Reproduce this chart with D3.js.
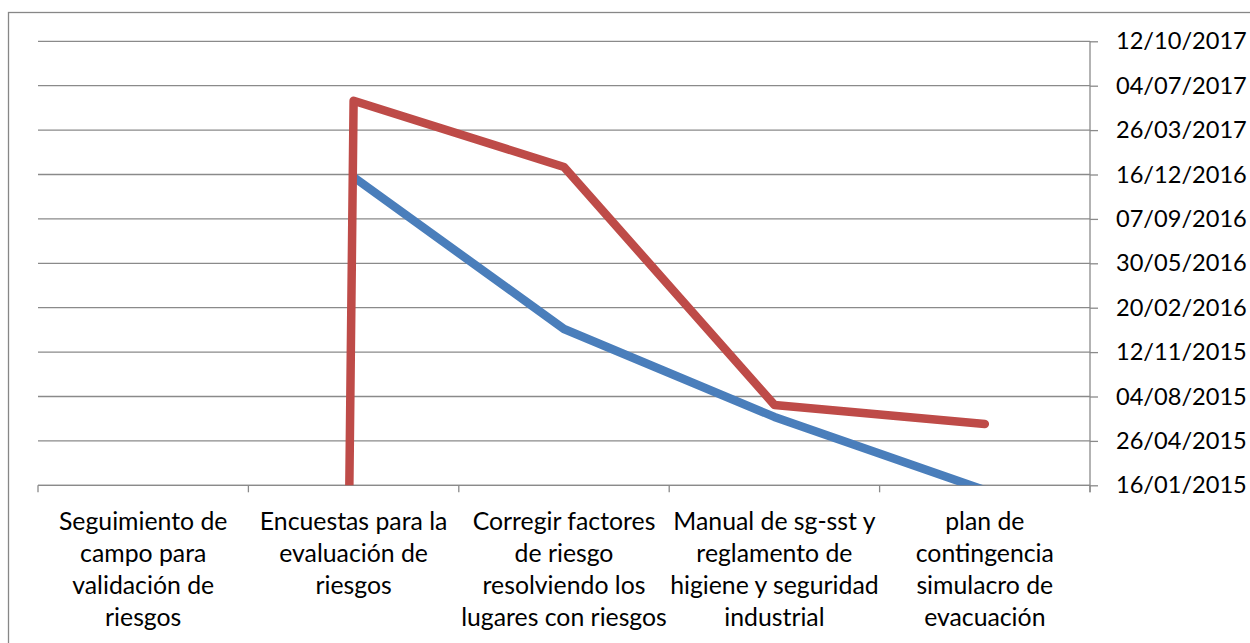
<!DOCTYPE html>
<html>
<head>
<meta charset="utf-8">
<script src="https://cdn.jsdelivr.net/npm/d3@7"></script>
<style>
  body { margin: 0; background: #fff; }
  text { font-family: Lato, "Open Sans", sans-serif; fill: #000; }
</style>
</head>
<body>
<div id="chart"></div>
<script>
var categories = [
    "Seguimiento de\ncampo para\nvalidación de\nriesgos",
    "Encuestas para la\nevaluación de\nriesgos",
    "Corregir factores\nde riesgo\nresolviendo los\nlugares con riesgos",
    "Manual de sg-sst y\nreglamento de\nhigiene y seguridad\nindustrial",
    "plan de\ncontingencia\nsimulacro de\nevacuación"
];

// blue series (first one has no value)
var serie_azul = [null, "2016-12-10", "2016-01-03", "2015-06-19", "2015-01-05"];
// red series, first cell is empty -> Excel reads 0 (31/12/1899)
var serie_roja = ["1899-12-31", "2017-05-31", "2017-01-02", "2015-07-16", "2015-06-03"];

var tick_labels = ["16/01/2015", "26/04/2015", "04/08/2015", "12/11/2015", "20/02/2016",
                   "30/05/2016", "07/09/2016", "16/12/2016", "26/03/2017", "04/07/2017", "12/10/2017"];

var full_w = 1250, full_h = 643;
var plot = {'left': 38, 'right': 1090, 'top': 41.3, 'bottom': 485.3};

var parseIso = d3.utcParse("%Y-%m-%d");
var parseTick = d3.utcParse("%d/%m/%Y");
var tick_dates = tick_labels.map(parseTick);

var x = d3.scaleBand()
          .domain(d3.range(categories.length))
          .range([plot.left, plot.right]);

var y = d3.scaleUtc()
          .domain(d3.extent(tick_dates))
          .range([plot.bottom, plot.top]);

var svg = d3.select("#chart")
            .append("svg")
            .attr("width", full_w)
            .attr("height", full_h);

// chart border (cropped on the right and bottom)
svg.append("rect")
   .attr("x", 8.5).attr("y", 12.5)
   .attr("width", 1300).attr("height", 700)
   .attr("fill", "none")
   .attr("stroke", "#878787")
   .attr("stroke-width", 1.3);

// gridlines
svg.append("g")
   .selectAll("line")
   .data(tick_dates)
   .enter().append("line")
   .attr("x1", plot.left).attr("x2", plot.right)
   .attr("y1", d => y(d)).attr("y2", d => y(d))
   .attr("stroke", "#8a8a8a")
   .attr("stroke-width", 1.3);

// right axis
var y_axis = d3.axisRight(y)
               .tickValues(tick_dates)
               .tickFormat(d3.utcFormat("%d/%m/%Y"))
               .tickSize(8)
               .tickSizeOuter(0)
               .tickPadding(18);

var gy = svg.append("g")
   .attr("transform", "translate(" + plot.right + ",0)")
   .call(y_axis);
gy.select(".domain").remove();
gy.selectAll(".tick line").attr("stroke", "#8a8a8a").attr("stroke-width", 1.3);
gy.selectAll(".tick text").style("font-size", "23.6px").attr("font-family", "Lato");
gy.append("line")
  .attr("x1", 0).attr("x2", 0)
  .attr("y1", plot.top).attr("y2", plot.bottom + 7)
  .attr("stroke", "#8a8a8a").attr("stroke-width", 1.3);

// bottom axis with ticks at category boundaries
var bounds = d3.range(categories.length + 1).map(i => i < categories.length ? x(i) : plot.right);
var gx = svg.append("g");
gx.append("line")
  .attr("x1", plot.left).attr("x2", plot.right)
  .attr("y1", plot.bottom).attr("y2", plot.bottom)
  .attr("stroke", "#8a8a8a").attr("stroke-width", 1.3);
gx.selectAll(".bt")
  .data(bounds)
  .enter().append("line")
  .attr("class", "bt")
  .attr("x1", d => d).attr("x2", d => d)
  .attr("y1", plot.bottom).attr("y2", plot.bottom + 7)
  .attr("stroke", "#8a8a8a").attr("stroke-width", 1.3);

// category labels
var labels = gx.selectAll(".cat")
  .data(categories)
  .enter().append("text")
  .attr("class", "cat")
  .attr("text-anchor", "middle")
  .style("font-size", "24.8px")
  .attr("transform", (d, i) => "translate(" + (x(i) + x.bandwidth() / 2) + "," + 530 + ")");

labels.selectAll("tspan")
  .data(d => d.split("\n"))
  .enter().append("tspan")
  .attr("x", 0)
  .attr("y", (d, i) => i * 32)
  .text(d => d);

// lines
svg.append("clipPath")
   .attr("id", "plotclip")
   .append("rect")
   .attr("x", plot.left).attr("y", plot.top)
   .attr("width", plot.right - plot.left)
   .attr("height", plot.bottom - plot.top);

var line = d3.line()
             .defined(d => d != null)
             .x((d, i) => x(i) + x.bandwidth() / 2)
             .y(d => y(parseIso(d)));

var series = [
    {'values': serie_azul, 'color': "#4a7ebb"},
    {'values': serie_roja, 'color': "#be4b48"}
];

svg.append("g")
   .attr("clip-path", "url(#plotclip)")
   .selectAll("path")
   .data(series)
   .enter().append("path")
   .attr("d", d => line(d.values))
   .attr("fill", "none")
   .attr("stroke", d => d.color)
   .attr("stroke-width", 8.5)
   .attr("stroke-linejoin", "round")
   .attr("stroke-linecap", "round");
</script>
</body>
</html>
